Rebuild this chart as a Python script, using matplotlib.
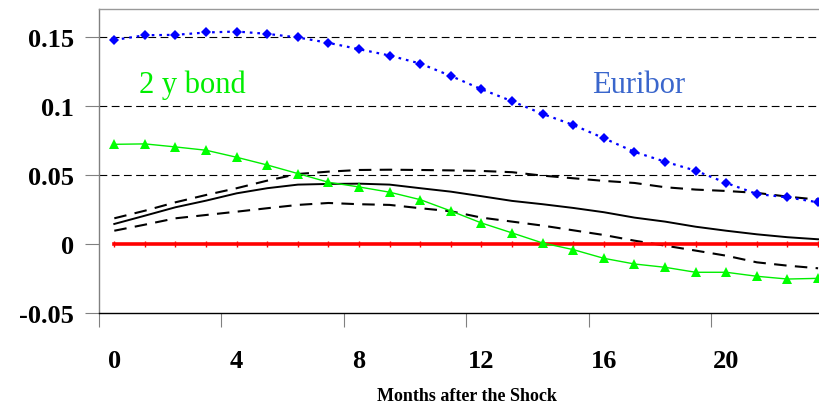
import matplotlib.pyplot as plt
import numpy as np

months = np.arange(24)

euribor = [0.1478, 0.1512, 0.1515, 0.1532, 0.1539, 0.1522, 0.1496, 0.1457,
           0.1411, 0.1365, 0.1307, 0.1217, 0.1121, 0.1034, 0.0942, 0.0862,
           0.0766, 0.0667, 0.0596, 0.0531, 0.0442, 0.0362, 0.0338, 0.0302]
bond_2y = [0.0722, 0.0725, 0.0703, 0.0679, 0.0628, 0.0572, 0.0510, 0.0447,
           0.0413, 0.0375, 0.0321, 0.0239, 0.0152, 0.0080, 0.0007, -0.0041,
           -0.0104, -0.0145, -0.0169, -0.0205, -0.0205, -0.0234, -0.0254, -0.0249]
irf = [0.0145, 0.0205, 0.0266, 0.0314, 0.0367, 0.0404, 0.0430, 0.0435,
       0.0437, 0.0430, 0.0404, 0.0379, 0.0346, 0.0312, 0.0288, 0.0261,
       0.0230, 0.0191, 0.0162, 0.0125, 0.0096, 0.0070, 0.0049, 0.0034]
upper = [0.0186, 0.0241, 0.0302, 0.0355, 0.0404, 0.0459, 0.0507, 0.0524,
         0.0536, 0.0538, 0.0536, 0.0533, 0.0529, 0.0520, 0.0495, 0.0476,
         0.0457, 0.0442, 0.0411, 0.0394, 0.0384, 0.0370, 0.0343, 0.0321]
lower = [0.0096, 0.0140, 0.0186, 0.0210, 0.0234, 0.0259, 0.0283, 0.0297,
         0.0288, 0.0283, 0.0259, 0.0237, 0.0191, 0.0162, 0.0133, 0.0099,
         0.0065, 0.0024, -0.0012, -0.0048, -0.0085, -0.0133, -0.0157, -0.0176]
zero = [0.0] * 24

ytick_vals = [-0.05, 0, 0.05, 0.1, 0.15]
ytick_labels = ["-0.05", "0", "0.05", "0.1", "0.15"]
xtick_vals = [0, 4, 8, 12, 16, 20]

plt.rcParams['font.family'] = ['Liberation Serif', 'DejaVu Serif']

fig = plt.figure(figsize=(8.19, 4.06), dpi=100)
ax = fig.add_axes([99 / 819, 1 - 314 / 406, 1 - 99 / 819, (314 - 10.3) / 406])

# grid lines
for y in [0.05, 0.1, 0.15]:
    ax.axhline(y, color='black', lw=0.8, ls=(0, (7, 4)), zorder=1)

ax.plot(months, upper, color='black', lw=1.5, ls=(0, (6, 4)), zorder=2)
ax.plot(months, lower, color='black', lw=1.5, ls=(0, (6, 4)), zorder=2)
ax.plot(months, irf, color='black', lw=1.4, zorder=2)
ax.plot(months, zero, color='#ff0000', lw=2.6, marker='|', markersize=4,
        markeredgewidth=1.0, zorder=3)
ax.plot(months, bond_2y, color='#00ee00', lw=1.0, marker='^', markersize=7,
        markeredgewidth=0, markerfacecolor='#00ff00', zorder=4)
ax.plot(months, euribor, color='#0000ff', lw=1.6, ls=(0, (1.2, 2.2)), marker='D',
        markersize=5.5, markeredgewidth=0, zorder=4)

ax.text(0.8, 0.1155, "2 y bond", color='#00ee00', fontsize=22, va='center', ha='left')
ax.text(15.6, 0.1155, "Euribor", color='#3a66cc', fontsize=22, va='center', ha='left')

ax.set_xlim(-0.5, 23.03)
ax.set_ylim(-0.05, 0.17)

ax.set_yticks(ytick_vals)
ax.set_yticklabels(ytick_labels, fontsize=19, fontweight='bold')
ax.tick_params(axis='y', length=10, width=0.8, color='#808080', pad=8)

ax.set_xticks(xtick_vals)
ax.set_xticklabels([str(v) for v in xtick_vals], fontsize=19, fontweight='bold')
ax.set_xticks(np.arange(-0.5, 23, 4), minor=True)
ax.tick_params(axis='x', which='major', length=0, pad=26)
ax.tick_params(axis='x', which='minor', length=10, width=0.8, color='#808080')

ax.set_xlabel("Months after the Shock", fontsize=13, fontweight='bold')
ax.xaxis.label.set_va('center')
ax.xaxis.set_label_coords(0.511, -0.272)

ax.spines['right'].set_visible(False)
ax.spines['left'].set_color('#808080')
ax.spines['top'].set_color('#999999')
ax.spines['bottom'].set_color('black')
for s in ['left', 'top', 'bottom']:
    ax.spines[s].set_linewidth(1.0)

fig.savefig("out.png", dpi=100)
